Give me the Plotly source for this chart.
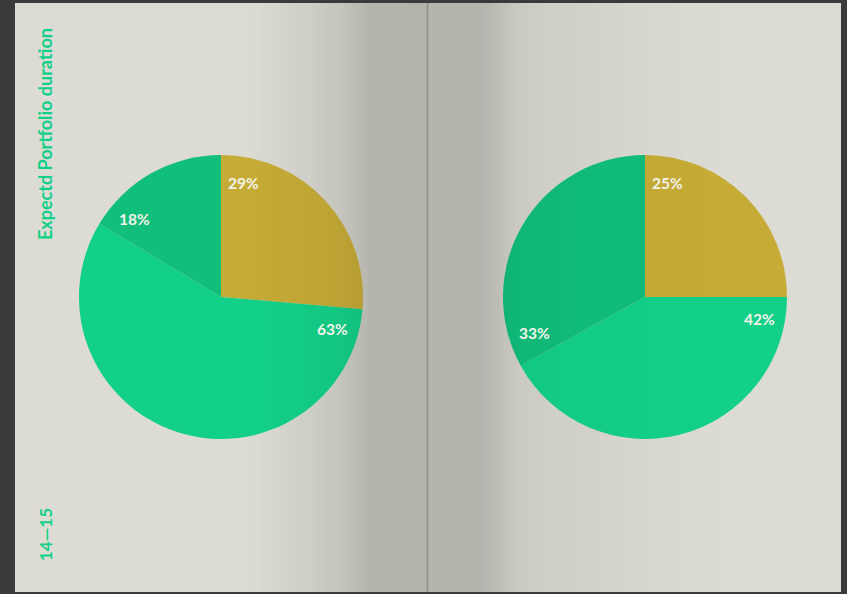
import numpy as np
import plotly.graph_objects as go

# ---- data -------------------------------------------------------------
slice_names = ["Short", "Medium", "Long"]
left_values = [29, 63, 18]
right_values = [25, 42, 33]
title_text = "Expectd Portfolio duration"
page_text = "14\u201415"

# ---- styling ----------------------------------------------------------
W, H = 847, 594
slice_colors = ["#c6ab37", "#13d088", "#11be7b"]
accent = "#13d088"
label_color = "#f3f3eb"
page_rgb = np.array([220, 220, 212])
frame_color = "#3a3a3c"
font_family = "Lato, 'Open Sans', sans-serif"

# pie geometry in pixels (center x, center y, radius)
left_pie = (221, 297, 142)
right_pie = (645, 297, 142)


def domain_for(cx, cy, r):
    return dict(x=[(cx - r) / W, (cx + r) / W],
                y=[1 - (cy + r) / H, 1 - (cy - r) / H])


fig = go.Figure()
for vals, geom in [(left_values, left_pie), (right_values, right_pie)]:
    fig.add_trace(go.Pie(
        labels=slice_names, values=vals, sort=False,
        direction="clockwise", rotation=0,
        marker=dict(colors=slice_colors, line=dict(width=0)),
        textinfo="none", hoverinfo="label+value",
        domain=domain_for(*geom), showlegend=False,
    ))

# value labels placed just inside the leading edge of each slice
annotations = []
for vals, (cx, cy, r) in [(left_values, left_pie), (right_values, right_pie)]:
    total = float(sum(vals))
    start = 0.0
    for v in vals:
        ang = np.deg2rad(start * 360 + 11)
        lx = cx + 0.82 * r * np.sin(ang)
        ly = cy - 0.82 * r * np.cos(ang)
        annotations.append(dict(
            x=lx / W, y=1 - ly / H, xref="paper", yref="paper",
            text=f"<b>{v}%</b>", showarrow=False,
            font=dict(family=font_family, size=15.5, color=label_color),
            xanchor="center", yanchor="middle"))
        start += v / total

annotations.append(dict(
    x=45 / W, y=1 - 134 / H, xref="paper", yref="paper",
    text=f"<b>{title_text}</b>", textangle=-90, showarrow=False,
    font=dict(family=font_family, size=18, color=accent),
    xanchor="center", yanchor="middle"))
annotations.append(dict(
    x=45 / W, y=1 - 535 / H, xref="paper", yref="paper",
    text=f"<b>{page_text}</b>", textangle=-90, showarrow=False,
    font=dict(family=font_family, size=17, color=accent),
    xanchor="center", yanchor="middle"))

# ---- book spread: pages, spine shading, gutter line ---------------------
shapes = [dict(type="rect", xref="paper", yref="paper", layer="below",
               x0=15 / W, x1=841 / W, y0=1 - 592 / H, y1=1 - 3 / H,
               fillcolor="rgb(220,220,212)", line=dict(width=0))]

shade_x = [250, 280, 310, 340, 360, 372, 427, 428, 480, 490, 505, 520, 560, 640, 720]
shade_f = [1.0, 0.973, 0.94, 0.9, 0.855, 0.823, 0.815, 0.82, 0.823, 0.84, 0.89,
           0.925, 0.95, 0.98, 1.0]

for x0 in range(250, 720, 2):
    f = float(np.interp(x0 + 1, shade_x, shade_f))
    a = 0.5 * (1 - f)
    base = np.clip(page_rgb * f / (1 - a), 0, 255).astype(int)
    shapes.append(dict(type="rect", xref="paper", yref="paper", layer="below",
                       x0=x0 / W, x1=(x0 + 2) / W, y0=1 - 592 / H, y1=1 - 3 / H,
                       fillcolor=f"rgb({base[0]},{base[1]},{base[2]})",
                       line=dict(width=0)))
    if a > 0.002:
        shapes.append(dict(type="rect", xref="paper", yref="paper", layer="above",
                           x0=x0 / W, x1=(x0 + 2) / W, y0=1 - 592 / H, y1=1 - 3 / H,
                           fillcolor=f"rgba(0,0,0,{a:.3f})", line=dict(width=0)))

shapes.append(dict(type="line", xref="paper", yref="paper", layer="above",
                   x0=427.5 / W, x1=427.5 / W, y0=1 - 592 / H, y1=1 - 3 / H,
                   line=dict(color="#8f908b", width=1.5)))

fig.update_layout(
    width=W, height=H,
    margin=dict(l=0, r=0, t=0, b=0),
    paper_bgcolor=frame_color, plot_bgcolor=frame_color,
    shapes=shapes, annotations=annotations,
    showlegend=False,
)

fig.write_html("out.html")
